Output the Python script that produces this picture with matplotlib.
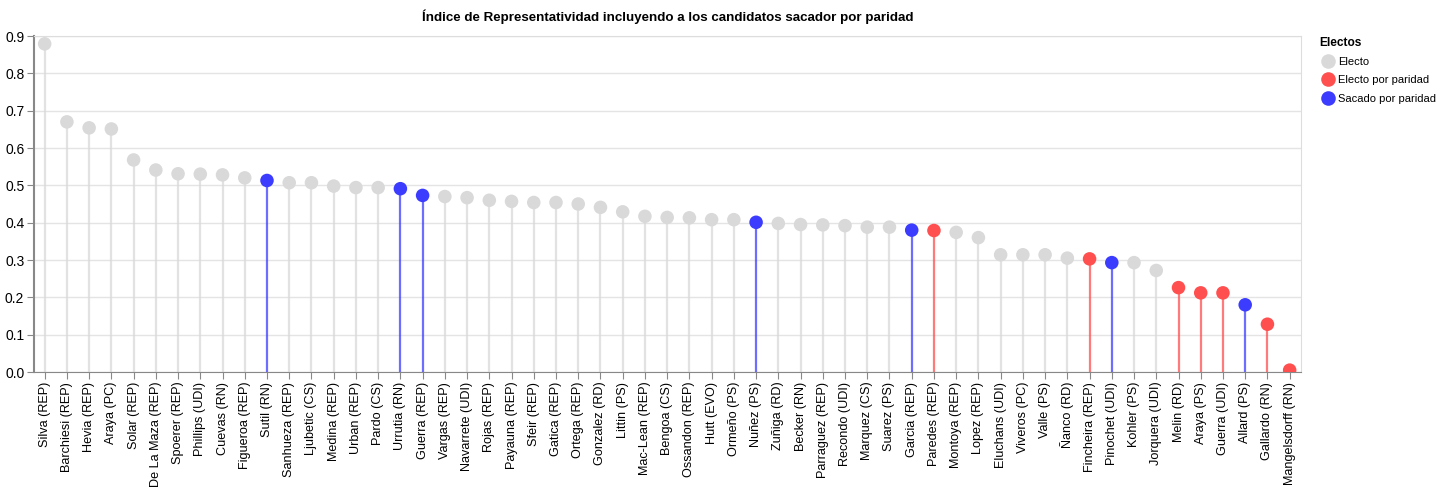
import matplotlib
matplotlib.use('Agg')

import matplotlib.pyplot as plt
from matplotlib.lines import Line2D

plt.rcParams['font.family'] = ['Liberation Sans', 'DejaVu Sans']

# datos
candidatos = ['Silva (REP)', 'Barchiesi (REP)', 'Hevia (REP)', 'Araya (PC)', 'Solar (REP)',
              'De La Maza (REP)', 'Spoerer (REP)', 'Phillips (UDI)', 'Cuevas (RN)', 'Figueroa (REP)',
              'Sutil (RN)', 'Sanhueza (REP)', 'Ljubetic (CS)', 'Medina (REP)', 'Urban (REP)',
              'Pardo (CS)', 'Urrutia (RN)', 'Guerra (REP)', 'Vargas (REP)', 'Navarrete (UDI)',
              'Rojas (REP)', 'Payauna (REP)', 'Sfeir (REP)', 'Gatica (REP)', 'Ortega (REP)',
              'Gonzalez (RD)', 'Littin (PS)', 'Mac-Lean (REP)', 'Bengoa (CS)', 'Ossandon (REP)',
              'Hutt (EVO)', 'Ormeño (PS)', 'Nuñez (PS)', 'Zuñiga (RD)', 'Becker (RN)',
              'Parraguez (REP)', 'Recondo (UDI)', 'Marquez (CS)', 'Suarez (PS)', 'Garcia (REP)',
              'Paredes (REP)', 'Montoya (REP)', 'Lopez (REP)', 'Eluchans (UDI)', 'Viveros (PC)',
              'Valle (PS)', 'Ñanco (RD)', 'Fincheira (REP)', 'Pinochet (UDI)', 'Kohler (PS)',
              'Jorquera (UDI)', 'Melin (RD)', 'Araya (PS)', 'Guerra (UDI)', 'Allard (PS)',
              'Gallardo (RN)', 'Mangelsdorff (RN)']
indice = [0.879, 0.670, 0.654, 0.651, 0.568,
          0.541, 0.531, 0.530, 0.528, 0.520,
          0.513, 0.507, 0.507, 0.498, 0.494,
          0.494, 0.491, 0.473, 0.470, 0.467,
          0.460, 0.457, 0.454, 0.454, 0.450,
          0.441, 0.429, 0.417, 0.414, 0.413,
          0.408, 0.408, 0.401, 0.398, 0.395,
          0.394, 0.392, 0.388, 0.388, 0.380,
          0.379, 0.374, 0.360, 0.314, 0.314,
          0.314, 0.305, 0.303, 0.293, 0.293,
          0.272, 0.226, 0.212, 0.212, 0.180,
          0.128, 0.005]
E, EP, SP = 'Electo', 'Electo por paridad', 'Sacado por paridad'
estado = [E, E, E, E, E,
          E, E, E, E, E,
          SP, E, E, E, E,
          E, SP, SP, E, E,
          E, E, E, E, E,
          E, E, E, E, E,
          E, E, SP, E, E,
          E, E, E, E, SP,
          EP, E, E, E, E,
          E, E, EP, SP, E,
          E, EP, EP, EP, SP,
          EP, EP]

colores = {E: '#d9d9d9', EP: '#ff4f4f', SP: '#3c3cff'}

fig = plt.figure(figsize=(14.52, 4.93), dpi=100)
ax = fig.add_axes([34 / 1452, 1 - 372 / 493, (1301 - 34) / 1452, (372 - 36) / 493])

x = list(range(len(candidatos)))
c = [colores[s] for s in estado]
ax.vlines(x, 0, indice, colors=c, linewidth=1.6, alpha=0.75, zorder=2)
ax.scatter(x, indice, s=95, c=c, linewidths=0, zorder=3)

ax.set_xlim(-0.48, len(candidatos) - 0.49)
ax.set_ylim(0, 0.9)
ax.set_yticks([i / 10 for i in range(10)])
ax.set_yticklabels(['%.1f' % (i / 10) for i in range(10)], fontsize=10)
ax.set_xticks(x)
ax.set_xticklabels(candidatos, rotation=90, fontsize=9.1)
ax.tick_params(axis='both', length=5, color='#888888', pad=2)
ax.yaxis.grid(True, color='#e4e4e4', linewidth=1)
ax.set_axisbelow(True)
for s in ['top', 'right']:
    ax.spines[s].set_color('#dddddd')
for s in ['left', 'bottom']:
    ax.spines[s].set_color('#888888')
ax.spines['left'].set_linewidth(1.5)

ax.set_title('Índice de Representatividad incluyendo a los candidatos sacador por paridad',
             fontsize=9.6, fontweight='bold', pad=11)

handles = [Line2D([], [], marker='o', linestyle='', markersize=10.5, markerfacecolor=colores[k],
                  markeredgewidth=0, label=k) for k in [E, EP, SP]]
leg = fig.legend(handles=handles, title='Electos', loc='upper left', bbox_to_anchor=(1314 / 1452, 1 - 31 / 493),
                 frameon=False, fontsize=8, title_fontproperties={'weight': 'bold', 'size': 8.6},
                 handletextpad=0.2, labelspacing=0.75, borderpad=0, handlelength=1.5)
leg._legend_box.align = 'left'

fig.savefig('out.png', dpi=100)
